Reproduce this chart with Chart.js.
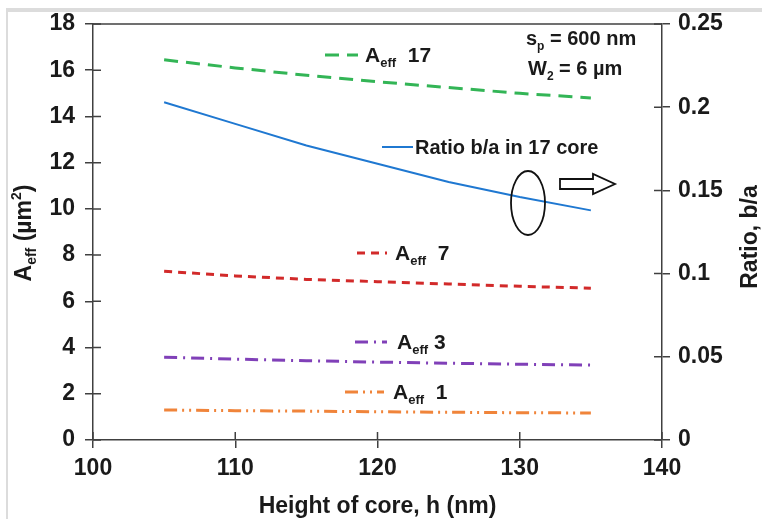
<!DOCTYPE html>
<html>
<head>
<meta charset="utf-8">
<script src="https://cdn.jsdelivr.net/npm/chart.js@4/dist/chart.umd.min.js"></script>
<style>
  html, body { margin: 0; padding: 0; background: #fff; }
  #wrap { width: 762px; height: 519px; position: relative; }
</style>
</head>
<body>
<div id="wrap"><canvas id="chart" width="762" height="519"></canvas></div>
<script>
// --- data ---
const heights = [105, 110, 115, 120, 125, 130, 135];
const aeff17 = [16.45, 16.1, 15.78, 15.5, 15.25, 15.0, 14.8];
const aeff7 = [7.3, 7.1, 6.95, 6.85, 6.75, 6.65, 6.57];
const aeff3 = [3.58, 3.5, 3.43, 3.37, 3.32, 3.28, 3.24];
const aeff1 = [1.3, 1.27, 1.25, 1.22, 1.2, 1.18, 1.17];
const ratioBA = [0.203, 0.19, 0.177, 0.166, 0.155, 0.146, 0.138];

const FONT = '"Liberation Sans", Arial, sans-serif';
const AXIS = '#404040';
const INK = '#1a1a1a';

const colors = {
    a17: '#33b556',
    a7: '#d22a2a',
    a3: '#8040b8',
    a1: '#f0843a',
    ratio: '#1f78d1'
};
const dashes = {
    a17: [14, 8],
    a7: [8, 6],
    a3: [13, 6, 2, 6],
    a1: [13, 5, 2, 5, 2, 5],
    ratio: []
};

function pts(ys) {
    return heights.map((h, i) => ({ x: h, y: ys[i] }));
}

function series(key, ys, axis, width) {
    return {
        label: key,
        data: pts(ys),
        yAxisID: axis,
        borderColor: colors[key],
        borderWidth: width,
        borderDash: dashes[key],
        pointRadius: 0,
        fill: false,
        tension: 0
    };
}

// "A" with subscript "eff", then the rest of the label
function drawAeff(ctx, x, y, rest, size) {
    ctx.font = 'bold ' + size + 'px ' + FONT;
    ctx.fillText('A', x, y);
    let w = ctx.measureText('A').width;
    ctx.font = 'bold ' + Math.round(size * 0.62) + 'px ' + FONT;
    ctx.fillText('eff', x + w, y + size * 0.25);
    w += ctx.measureText('eff').width;
    ctx.font = 'bold ' + size + 'px ' + FONT;
    ctx.fillText(rest, x + w, y);
}

function legendSample(ctx, key, x1, x2, y) {
    ctx.save();
    ctx.strokeStyle = colors[key];
    ctx.lineWidth = key === 'ratio' ? 2 : 3;
    ctx.setLineDash(dashes[key]);
    ctx.beginPath();
    ctx.moveTo(x1, y);
    ctx.lineTo(x2, y);
    ctx.stroke();
    ctx.restore();
}

const decorations = {
    id: 'decorations',
    beforeDraw(chart) {
        const ctx = chart.ctx;
        ctx.save();
        ctx.fillStyle = '#fff';
        ctx.fillRect(0, 0, chart.width, chart.height);
        // light frame at the top and left of the picture
        ctx.fillStyle = '#dcdcdc';
        ctx.fillRect(7, 8, chart.width - 7, 4);
        ctx.fillRect(6, 8, 2, chart.height - 8);
        ctx.restore();
    },
    afterDraw(chart) {
        const ctx = chart.ctx;
        const area = chart.chartArea;
        const sx = chart.scales.x, sy = chart.scales.y, sr = chart.scales.y2;
        ctx.save();

        // top border of the plot
        ctx.strokeStyle = AXIS;
        ctx.lineWidth = 1.5;
        ctx.beginPath();
        ctx.moveTo(area.left, area.top);
        ctx.lineTo(area.right, area.top);
        ctx.stroke();

        // inner halves of the crossing tick marks
        ctx.beginPath();
        sy.ticks.forEach(t => {
            const p = sy.getPixelForValue(t.value);
            ctx.moveTo(area.left, p); ctx.lineTo(area.left + 8, p);
        });
        sr.ticks.forEach(t => {
            const p = sr.getPixelForValue(t.value);
            ctx.moveTo(area.right - 8, p); ctx.lineTo(area.right, p);
        });
        sx.ticks.forEach(t => {
            const p = sx.getPixelForValue(t.value);
            ctx.moveTo(p, area.bottom); ctx.lineTo(p, area.bottom - 8);
        });
        ctx.stroke();

        ctx.fillStyle = INK;
        ctx.textAlign = 'left';
        ctx.textBaseline = 'alphabetic';

        // in-plot legend
        legendSample(ctx, 'a17', 325, 358, 55);
        drawAeff(ctx, 365, 62, '  17', 21);
        legendSample(ctx, 'ratio', 382, 413, 147);
        ctx.font = 'bold 20px ' + FONT;
        ctx.fillText('Ratio b/a in 17 core', 415, 154);
        legendSample(ctx, 'a7', 357, 387, 253);
        drawAeff(ctx, 395, 260, '  7', 21);
        legendSample(ctx, 'a3', 355, 387, 342);
        drawAeff(ctx, 397, 349, ' 3', 21);
        legendSample(ctx, 'a1', 345, 384, 392);
        drawAeff(ctx, 393, 399, '  1', 21);

        // parameters in the corner
        ctx.font = 'bold 20px ' + FONT;
        ctx.fillText('s', 526, 45);
        let w = ctx.measureText('s').width;
        ctx.font = 'bold 12px ' + FONT;
        ctx.fillText('p', 526 + w, 50);
        w += ctx.measureText('p').width;
        ctx.font = 'bold 20px ' + FONT;
        ctx.fillText(' = 600 nm', 526 + w, 45);
        ctx.fillText('W', 528, 75);
        w = ctx.measureText('W').width;
        ctx.font = 'bold 12px ' + FONT;
        ctx.fillText('2', 528 + w, 80);
        w += ctx.measureText('2').width;
        ctx.font = 'bold 20px ' + FONT;
        ctx.fillText(' = 6 \u00b5m', 528 + w, 75);

        // ellipse around the ratio curve and the arrow to the right axis
        ctx.strokeStyle = '#111';
        ctx.lineWidth = 1.8;
        ctx.beginPath();
        ctx.ellipse(528, 203, 17, 32, 0, 0, Math.PI * 2);
        ctx.stroke();
        ctx.beginPath();
        ctx.moveTo(560, 179);
        ctx.lineTo(593, 179);
        ctx.lineTo(593, 174);
        ctx.lineTo(615, 184);
        ctx.lineTo(593, 194);
        ctx.lineTo(593, 189);
        ctx.lineTo(560, 189);
        ctx.closePath();
        ctx.stroke();

        // left axis title: A_eff (µm²)
        ctx.save();
        ctx.translate(31, 233);
        ctx.rotate(-Math.PI / 2);
        ctx.textAlign = 'left';
        const parts = [
            ['A', 23, 0], ['eff', 14, 5], [' (\u00b5m', 23, 0], ['2', 14, -10], [')', 23, 0]
        ];
        let total = 0;
        parts.forEach(p => { ctx.font = 'bold ' + p[1] + 'px ' + FONT; total += ctx.measureText(p[0]).width; });
        let cx = -total / 2;
        parts.forEach(p => {
            ctx.font = 'bold ' + p[1] + 'px ' + FONT;
            ctx.fillText(p[0], cx, p[2]);
            cx += ctx.measureText(p[0]).width;
        });
        ctx.restore();

        // right axis title, reading bottom to top
        ctx.save();
        ctx.translate(757, 237);
        ctx.rotate(-Math.PI / 2);
        ctx.textAlign = 'center';
        ctx.font = 'bold 23px ' + FONT;
        ctx.fillText('Ratio, b/a', 0, 0);
        ctx.restore();

        ctx.restore();
    }
};

const tickFont = { family: FONT, size: 23, weight: 'bold' };

new Chart(document.getElementById('chart'), {
    type: 'line',
    data: {
        datasets: [
            series('a17', aeff17, 'y', 3),
            series('ratio', ratioBA, 'y2', 2),
            series('a7', aeff7, 'y', 3),
            series('a3', aeff3, 'y', 3),
            series('a1', aeff1, 'y', 3)
        ]
    },
    options: {
        responsive: false,
        animation: false,
        layout: { padding: { top: 24, left: 0, right: 0, bottom: 0 } },
        plugins: { legend: { display: false }, tooltip: { enabled: false } },
        scales: {
            x: {
                type: 'linear',
                min: 100, max: 140,
                ticks: { stepSize: 10, color: INK, font: tickFont, padding: 7, maxRotation: 0 },
                grid: { drawOnChartArea: false, tickLength: 8, color: AXIS, lineWidth: 1.5 },
                border: { color: AXIS, width: 1.5 },
                title: {
                    display: true,
                    text: 'Height of core, h (nm)',
                    color: INK,
                    font: { family: FONT, size: 23, weight: 'bold' },
                    padding: { top: 0, bottom: -1 }
                },
                afterFit(s) { s.height = 79; }
            },
            y: {
                position: 'left',
                min: 0, max: 18,
                ticks: { stepSize: 2, color: INK, font: tickFont, padding: 10 },
                grid: { drawOnChartArea: false, tickLength: 8, color: AXIS, lineWidth: 1.5 },
                border: { color: AXIS, width: 1.5 },
                afterFit(s) { s.width = 93; }
            },
            y2: {
                position: 'right',
                min: 0, max: 0.25,
                ticks: {
                    stepSize: 0.05, color: INK, font: tickFont, padding: 8,
                    callback: v => String(parseFloat(v.toFixed(2)))
                },
                grid: { drawOnChartArea: false, tickLength: 8, color: AXIS, lineWidth: 1.5 },
                border: { color: AXIS, width: 1.5 },
                afterFit(s) { s.width = 100; }
            }
        }
    },
    plugins: [decorations]
});
</script>
</body>
</html>
